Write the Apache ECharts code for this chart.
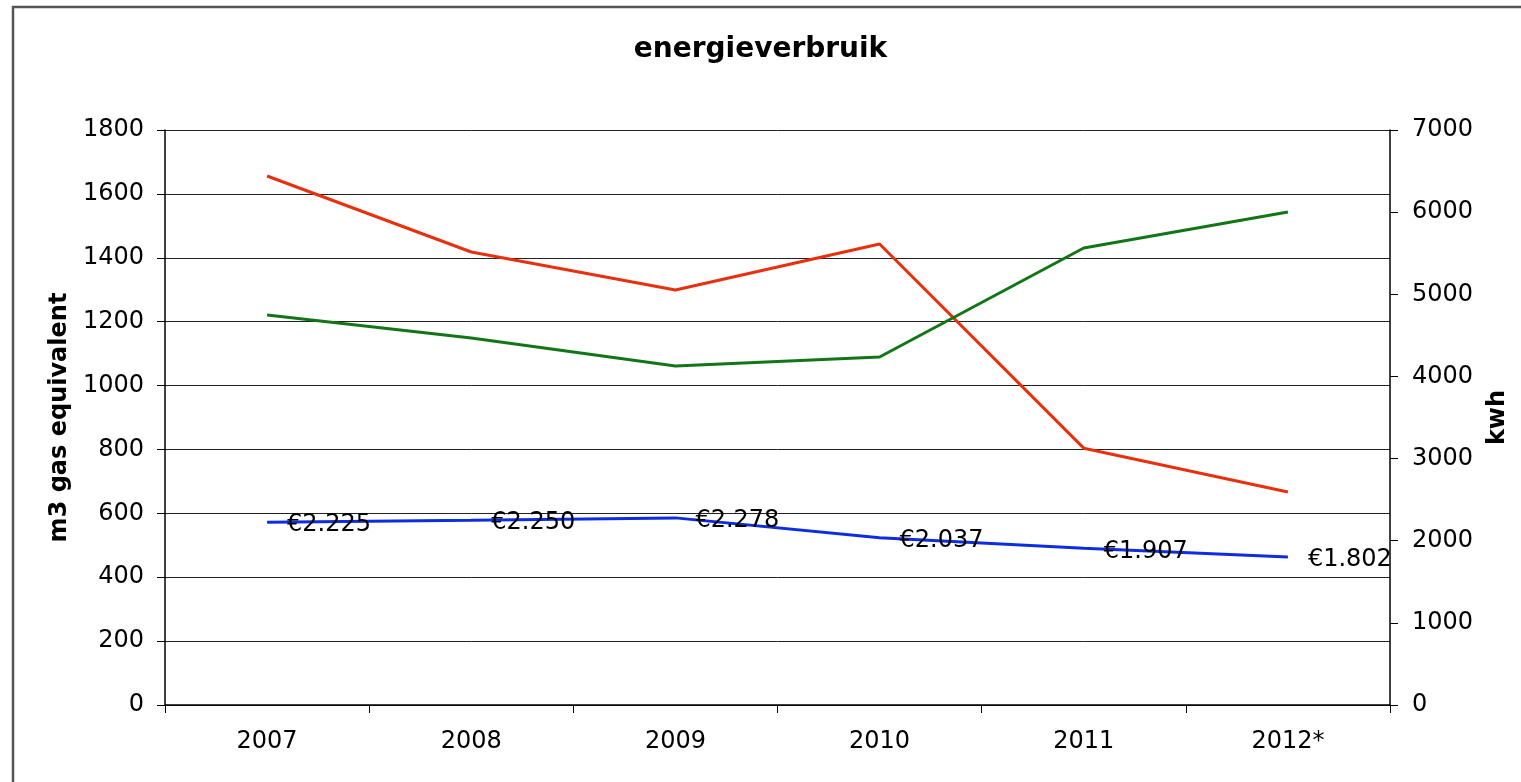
<!DOCTYPE html>
<html>
<head>
<meta charset="utf-8">
<script src="https://cdn.jsdelivr.net/npm/echarts@6/dist/echarts.min.js"></script>
<style>
html,body{margin:0;padding:0;background:#fff;}
#chart{width:1521px;height:782px;}
</style>
</head>
<body>
<div id="chart"></div>
<script>
const categories = ['2007','2008','2009','2010','2011','2012*'];
const gasM3 = [1656, 1418, 1299, 1443, 804, 667];
const electricityKwh = [4748, 4468, 4127, 4237, 5563, 6002];
const costEuro = [2225, 2250, 2278, 2037, 1907, 1802];
const costLabels = ['€2.225','€2.250','€2.278','€2.037','€1.907','€1.802'];
const leftTicks = {min: 0, max: 1800, interval: 200};
const rightTicks = {min: 0, max: 7000, interval: 1000};

const FONT = '"DejaVu Sans", Verdana, sans-serif';
const chart = echarts.init(document.getElementById('chart'));
chart.setOption({
  animation: false,
  backgroundColor: '#fff',
  textStyle: {fontFamily: FONT},
  title: {
    text: 'energieverbruik', left: 'center', top: 31,
    textStyle: {fontFamily: FONT, fontWeight: 'bold', fontSize: 28, color: '#000'}
  },
  graphic: [{
    type: 'rect', shape: {x: 13, y: 7, width: 1600, height: 900},
    style: {fill: 'none', stroke: '#555', lineWidth: 2.5}, silent: true, z: 100
  }],
  grid: {left: 165, right: 131, top: 130, bottom: 77},
  xAxis: {
    type: 'category', data: categories, boundaryGap: true,
    axisLine: {lineStyle: {color: '#000', width: 1.5}},
    axisTick: {show: true, length: 8, lineStyle: {color: '#000'}},
    axisLabel: {color: '#000', fontSize: 24, margin: 25, fontFamily: FONT}
  },
  yAxis: [{
    type: 'value', position: 'left', ...leftTicks,
    name: 'm3 gas equivalent', nameLocation: 'middle', nameGap: 91, nameRotate: 90,
    nameTextStyle: {fontFamily: FONT, fontWeight: 'bold', fontSize: 24, color: '#000'},
    axisLine: {show: true, lineStyle: {color: '#000', width: 1.5}},
    axisTick: {show: true, length: 8, lineStyle: {color: '#000'}},
    axisLabel: {color: '#000', fontSize: 24, margin: 21, fontFamily: FONT, formatter: v => String(v)},
    splitLine: {show: true, lineStyle: {color: '#222', width: 1}}
  }, {
    type: 'value', position: 'right', ...rightTicks,
    name: 'kwh', nameLocation: 'middle', nameGap: 96, nameRotate: 90,
    nameTextStyle: {fontFamily: FONT, fontWeight: 'bold', fontSize: 24, color: '#000'},
    axisLine: {show: true, lineStyle: {color: '#000', width: 1.5}},
    axisTick: {show: true, length: 8, lineStyle: {color: '#000'}},
    axisLabel: {color: '#000', fontSize: 24, margin: 22, fontFamily: FONT, formatter: v => String(v)},
    splitLine: {show: false}
  }],
  series: [{
    name: 'gas', type: 'line', yAxisIndex: 0, data: gasM3,
    symbol: 'none', lineStyle: {color: '#e8300e', width: 3}
  }, {
    name: 'elektra', type: 'line', yAxisIndex: 1, data: electricityKwh,
    symbol: 'none', lineStyle: {color: '#137616', width: 3}
  }, {
    name: 'kosten', type: 'line', yAxisIndex: 1, data: costEuro,
    symbol: 'circle', symbolSize: 2, showSymbol: true,
    itemStyle: {color: 'rgba(0,0,0,0)', borderWidth: 0},
    lineStyle: {color: '#0c2ee0', width: 3},
    label: {
      show: true, position: 'right', distance: 19, offset: [0, 3],
      fontFamily: FONT, fontSize: 24, color: '#000',
      formatter: p => costLabels[p.dataIndex]
    },
    z: 5
  }]
});
</script>
</body>
</html>
